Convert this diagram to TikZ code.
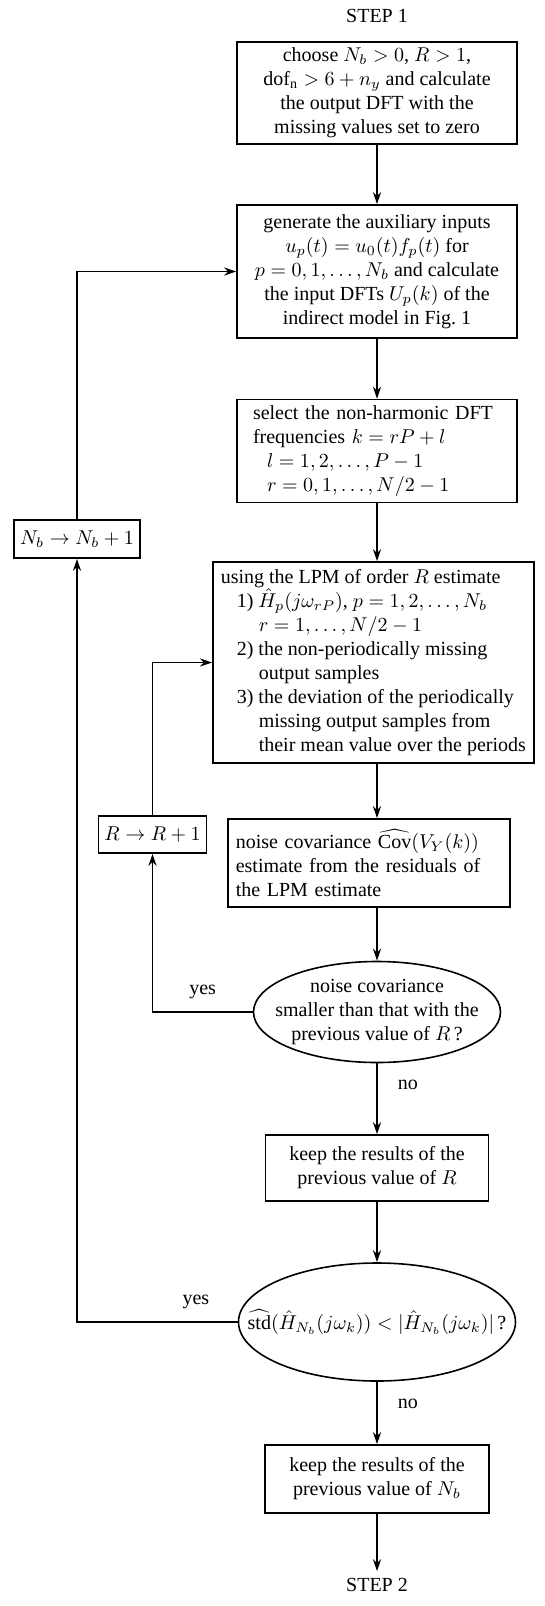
\documentclass[tikz,border=0pt]{standalone}
\usepackage{amsmath}
\usepackage{amssymb}
\usepackage{fontspec}
\setmainfont{Liberation Serif}
\usetikzlibrary{shapes.geometric}
\usetikzlibrary{arrows.meta}

\tikzset{
	every node/.style={font=\fontsize{10}{12}\selectfont},
	block/.style={draw,thick,align=center,inner xsep=4pt,inner ysep=3pt},
	lblock/.style={draw,thick,align=left,inner xsep=8pt,inner ysep=3pt},
	decision/.style={ellipse,draw,thick,align=center,inner ysep=0pt},
	incr/.style={draw,thick,inner sep=3pt},
	flow/.style={thick,->},
	lbl/.style={inner sep=0pt}
}

\begin{document}
\begin{tikzpicture}[x=0.5pt,y=-0.5pt,>={Stealth[length=6pt,width=4pt]}]
	\useasboundingbox (0,0) rectangle (545,1606);
	\coordinate (axis) at (377,0);
	% main column
	\node (step1) at (377,16) {STEP 1};
	\node[block,minimum width=140pt,minimum height=51pt] (choose) at (377,93)
		{choose $N_b>0$, $R>1$,\\ $\text{dof}_{\text{n}}>6+n_y$ and calculate\\ the output DFT with the\\ missing values set to zero};
	\node[block,minimum width=140pt,minimum height=66.5pt] (aux) at (377,271.5)
		{generate the auxiliary inputs\\ $u_p(t)=u_0(t)f_p(t)$ for\\ $p=0,1,\ldots,N_b$ and calculate\\ the input DFTs $U_p(k)$ of the\\ indirect model in Fig.~1};
	\node[lblock,text width=124pt,minimum height=51pt] (freq) at (377,451)
		{select the non-harmonic DFT\\ frequencies $k=rP+l$\\ \hspace*{7pt}$l=1,2,\ldots,P-1$\\ \hspace*{7pt}$r=0,1,\ldots,N/2-1$};
	\node[lblock,inner xsep=4pt,minimum height=100.5pt,anchor=west] (lpm) at (212,662.5)
		{using the LPM of order $R$ estimate\\ \hspace*{8pt}1) $\hat{H}_p(j\omega_{rP})$, $p=1,2,\ldots,N_b$\\ \hspace*{19pt}$r=1,\ldots,N/2-1$\\ \hspace*{8pt}2) the non-periodically missing\\ \hspace*{19pt}output samples\\ \hspace*{8pt}3) the deviation of the periodically\\ \hspace*{19pt}missing output samples from\\ \hspace*{19pt}their mean value over the periods};
	\node[lblock,inner xsep=4pt,text width=133pt,minimum height=44pt,anchor=west] (cov) at (227,863)
		{noise covariance $\widehat{\text{Cov}}(V_Y(k))$\\ estimate from the residuals of\\ the LPM estimate};
	\node[decision,inner xsep=-8pt,minimum width=123.5pt,minimum height=50.5pt] (orderR) at (377,1012)
		{noise covariance\\ smaller than that with the\\ previous value of $R$\,?};
	\node[block,minimum width=111.5pt,minimum height=33pt] (keepR) at (377,1168) {keep the results of the\\ previous value of $R$};
	\node[decision,inner xsep=-17pt,minimum width=138.5pt,minimum height=59pt] (orderNb) at (377,1322)
		{$\widehat{\text{std}}(\hat{H}_{N_b}(j\omega_k))<|\hat{H}_{N_b}(j\omega_k)|$\,?};
	\node[block,minimum width=112pt,minimum height=34pt] (keepNb) at (377,1479) {keep the results of the\\ previous value of $N_b$};
	\node (step2) at (377,1585) {STEP 2};
	% loop counters
	\node[incr,minimum width=63pt,minimum height=19pt] (incNb) at (77,539) {$N_b\rightarrow N_b+1$};
	\node[incr,minimum width=51.5pt,minimum height=18.5pt] (incR) at (152.5,834.5) {$R\rightarrow R+1$};

	\draw[flow] (choose) -- (aux);
	\draw[flow] (aux) -- (freq);
	\draw[flow] (freq.south -| axis) -- (lpm.north -| axis);
	\draw[flow] (lpm.south -| axis) -- (cov.north -| axis);
	\draw[flow] (cov.south -| axis) -- (orderR);
	\draw[flow] (orderR) -- node[lbl,pos=0.3,right=10pt] {no} (keepR);
	\draw[flow] (keepR) -- (orderNb);
	\draw[flow] (orderNb) -- node[lbl,pos=0.36,right=10pt] {no} (keepNb);
	\draw[flow] (keepNb) -- (step2);
	% inner loop over R
	\draw[flow] (orderR.west) -| node[lbl,pos=0.25,above=6pt] {yes} (incR);
	\draw[flow] (incR) |- (lpm);
	% outer loop over N_b
	\draw[flow] (orderNb.west) -| node[lbl,pos=0.13,above=6pt] {yes} (incNb);
	\draw[flow] (incNb) |- (aux);
\end{tikzpicture}
\end{document}
